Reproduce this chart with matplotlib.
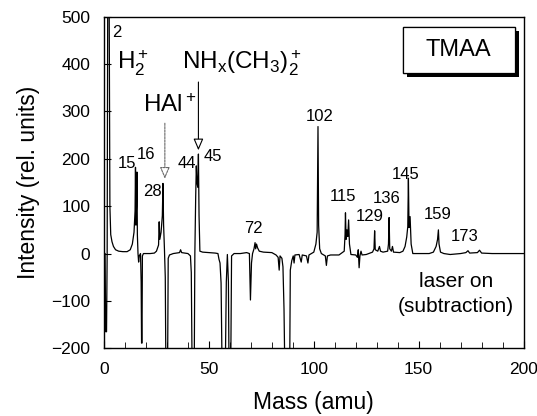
import matplotlib
matplotlib.use("Agg")
import matplotlib.pyplot as plt
from matplotlib import patheffects
from matplotlib.patches import Rectangle

plt.rcParams['font.family'] = ['Liberation Sans', 'DejaVu Sans']
plt.rcParams['mathtext.fontset'] = 'custom'
plt.rcParams['mathtext.rm'] = 'Liberation Sans'
plt.rcParams['mathtext.it'] = 'Liberation Sans'
plt.rcParams['mathtext.bf'] = 'Liberation Sans'

# ---- data ----
mass = [0.5, 0.8, 1.2, 1.5, 1.8, 2.4, 2.8, 3.2, 3.8, 4.5, 5.5, 7, 9, 11, 12.5, 13.5, 14.3, 14.8,
        15.0, 15.2, 15.5, 15.7, 15.9, 16.2, 16.5, 16.8, 17.4, 17.7, 17.9, 18.1, 18.3, 18.8, 20, 22,
        24, 25, 26, 26.3, 26.6, 27.2, 27.8, 28.1, 28.4, 28.8, 29.2, 29.5, 30.3, 30.6, 31.2, 33, 36,
        36.5, 37, 40, 41.2, 41.6, 42, 43, 43.3, 43.7, 44.0, 44.3, 44.7, 45.0, 45.3, 45.7, 47, 50,
        53, 54.3, 54.8, 55.3, 55.8, 56.3, 57.8, 58.3, 58.8, 59.3, 59.6, 60.4, 60.8, 62, 65, 68,
        69.3, 69.8, 70.3, 70.8, 71.5, 72.0, 72.3, 72.7, 73.2, 74, 76, 80, 82, 83, 83.5, 83.9, 84.8,
        85.3, 85.8, 86.2, 88.5, 88.8, 89.5, 90.2, 90.6, 91, 93, 94, 94.5, 96.5, 97.2, 97.7, 100,
        101, 101.6, 102.0, 102.3, 102.8, 103.6, 105.5, 106, 106.5, 108, 112, 114.5, 114.9, 115.1,
        115.4, 115.8, 116.2, 116.6, 117.0, 117.7, 120, 120.8, 121.2, 121.6, 122, 122.5, 123, 125,
        128, 128.7, 129.0, 129.3, 130.5, 131.3, 131.8, 133, 135.2, 135.6, 135.9, 136.2, 137, 137.5,
        138, 141, 142.5, 143.5, 144.3, 144.8, 145.1, 145.4, 145.9, 146.4, 147.2, 150, 155, 157,
        158.3, 159.0, 159.4, 159.7, 160.4, 162, 165, 170, 172.5, 173.5, 174.3, 178, 179, 180, 185,
        190, 195, 200]
intensity = [0, -165, -165, 0, 600, 600, 100, 40, 25, 15, 8, 5, 4, 4, 8, 20, 45, 90,
             182, 60, 100, 172, 40, 0, -18, -5, 0, -60, -189, -189, -5, 0, 0, 0,
             1, 5, 18, 67, 30, 45, 80, 148, 60, 10, -50, -250, -250, -10, -3, 0, 2,
             8, 2, 0, -5, -40, -250, -250, 0, 120, 185, 150, 140, 210, 80, 5, 3, 2,
             1, 0, -12, -20, -62, -250, -250, -60, -2, -60, -250, -250, -5, 0, 0, 2,
             0, -98, -20, 0, 10, 23, 10, 20, 12, 5, 3, 2, -3, -8, -35, -5, -10,
             -28, -117, -250, -250, -35, -15, -5, -20, -3, -2, -18, -3, -5, -20, -3, 3,
             20, 45, 268, 60, 10, 0, -5, -25, -5, -3, -3, 5, 40, 86,
             30, 50, 36, 71, 20, -2, -3, -8, 8, -30, -5, 5, -3, -2,
             3, 10, 48, 8, 5, 15, 5, 3, 5, 20, 76, 10, 5, 15,
             3, 2, 5, 15, 35, 57, 159, 55, 78, 20, 0, 0, 0, 3,
             15, 30, 50, 20, 3, 0, -2, 0, 2, 6, 1, 2, 7, 1, 0,
             0, 0, 0]

peak_labels = ['15', '16', '28', '44', '45', '72', '102', '115', '129', '136', '145', '159', '173']
peak_label_x = [11, 20, 23.2, 39.4, 51.7, 71.1, 102.9, 114, 126.7, 134.6, 144, 159.2, 172]
peak_label_y = [190, 208, 130, 191, 204, 53, 289, 120, 78, 117, 166, 81.5, 36]

x_ticks = [0, 50, 100, 150, 200]
y_ticks = [-200, -100, 0, 100, 200, 300, 400, 500]

fig = plt.figure(figsize=(5.37, 4.16), dpi=100)
ax = fig.add_axes([0.1937, 0.1627, 0.7813, 0.7973])

ax.plot(mass, intensity, color='black', lw=0.9)

ax.set_xlim(0, 200)
ax.set_ylim(-200, 500)
ax.set_xticks(x_ticks)
ax.set_xticks(range(0, 201, 10), minor=True)
ax.set_yticks(y_ticks)
ax.tick_params(axis='both', which='both', direction='in', labelsize=12.5)
ax.tick_params(axis='x', which='major', length=5, pad=10)
ax.tick_params(axis='x', which='minor', length=4)
ax.tick_params(axis='y', which='major', length=5, pad=10)
for s in ax.spines.values():
    s.set_linewidth(1.0)

ax.set_xlabel('Mass (amu)', fontsize=16.5, labelpad=10)
ax.set_ylabel('Intensity (rel. units)', fontsize=16.5, labelpad=8)

for lab, lx, ly in zip(peak_labels, peak_label_x, peak_label_y):
    ax.text(lx, ly, lab, fontsize=12, ha='center', va='center')

ax.text(3.8, 466, '2', fontsize=12, ha='left', va='center')
ax.text(6.3, 402, r'H$_2^+$', fontsize=17.5, ha='left', va='center')
ax.text(18.6, 312, r'HAl$^+$', fontsize=17.5, ha='left', va='center')
ax.text(37, 402, r'NH$_x$(CH$_3$)$_2^+$', fontsize=17.5, ha='left', va='center')

ax.annotate('', xy=(29, 158), xytext=(29, 275),
            arrowprops=dict(arrowstyle='-|>,head_length=0.7,head_width=0.3', fc='white',
                            ec='dimgray', lw=0.8, ls=(0, (2, 1)), shrinkA=0, shrinkB=0))
ax.annotate('', xy=(45, 218), xytext=(45, 362),
            arrowprops=dict(arrowstyle='-|>,head_length=0.7,head_width=0.3', fc='white',
                            ec='black', lw=0.8, shrinkA=0, shrinkB=0))

box = Rectangle((142.5, 381), 53.2, 97, fc='white', ec='black', lw=0.9, zorder=5)
box.set_path_effects([
    patheffects.withSimplePatchShadow(offset=(3, -3), shadow_rgbFace='black', alpha=1.0),
    patheffects.Normal()])
ax.add_patch(box)
ax.text(169, 430, 'TMAA', fontsize=17, ha='center', va='center', zorder=6)

ax.text(168, -59, 'laser on', fontsize=15, ha='center', va='center')
ax.text(167.5, -111, '(subtraction)', fontsize=15, ha='center', va='center')

fig.savefig('out.png', dpi=100)
